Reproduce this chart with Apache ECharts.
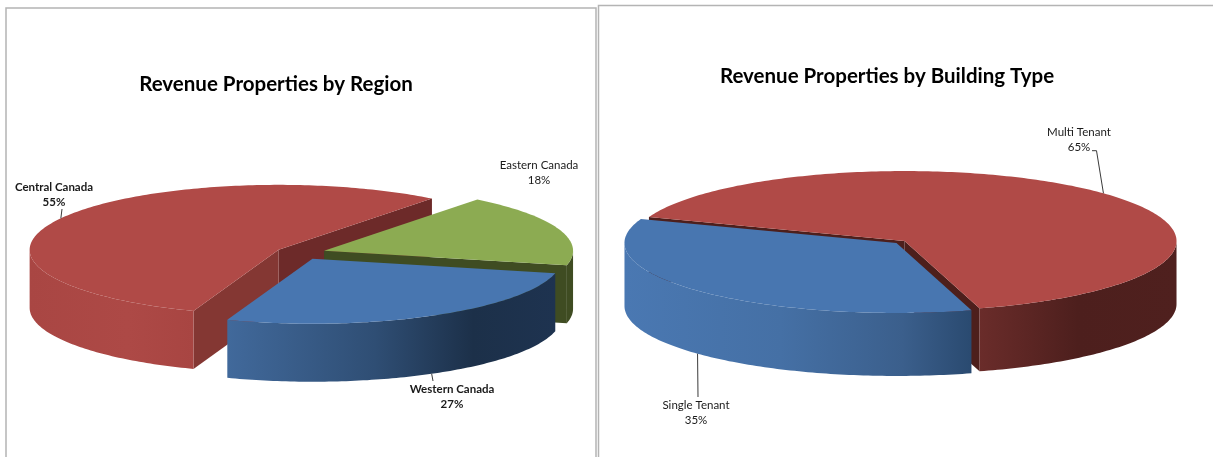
<!DOCTYPE html>
<html lang="en">
	<head>
		<meta charset="UTF-8">
		<title>Revenue Properties</title>
		<style>
			html, body { margin: 0; padding: 0; background: #fff; overflow: hidden; }
			#main { width: 1213px; height: 457px; }
		</style>
		<script src="https://cdn.jsdelivr.net/npm/echarts@6/dist/echarts.min.js"></script>
	</head>
	<body>
		<div id="main"></div>
		<script type="text/javascript">
			// data, clockwise from each pie's first slice
			var regionNames = ['Eastern Canada', 'Western Canada', 'Central Canada'];
			var regionValues = [18, 27, 55];
			var typeNames = ['Single Tenant', 'Multi Tenant'];
			var typeValues = [35, 65];

			var FONT = 'Lato, "Open Sans", sans-serif';

			function wallFill(stops) {
				if (typeof stops === 'string') return stops;
				return new echarts.graphic.LinearGradient(0, 0, 1, 0, stops.map(function(s) {
					return { offset: s[0], color: s[1] };
				}));
			}

			// layout: tilted pie with exploded slices, angles come from the values
			var regionLayout = {
				cx: 300.5, cy: 253, rx: 249, ry: 65, depth: 58, explode: 25, startAngle: -52,
				slices: [
					{ top: '#8cab52', wall: '#3f4c22', cut: '#3f4c22',
						label: { x: 539, y: 173 } },
					{ top: '#4876b0', wall: [[0, '#41699b'], [0.45, '#2f4e74'], [0.75, '#1c3049'], [1, '#1e3350']], cut: '#2f4e74',
						label: { x: 452, y: 397, bold: true }, leader: [[433, 381]] },
					{ top: '#b04a47', wall: [[0, '#a94643'], [0.6, '#ad4946'], [1, '#a84542']], cut: '#6d2a29', cutFront: '#843733',
						label: { x: 54, y: 195, bold: true }, leader: [[62, 209]] }
				]
			};
			var typeLayout = {
				cx: 900.5, cy: 242, rx: 272, ry: 70, depth: 63, explode: 5.5, startAngle: 74,
				slices: [
					{ top: '#4876b0', wall: [[0, '#4a78b2'], [0.45, '#4570a5'], [0.8, '#3b5f8c'], [1, '#2a4a70']], cut: '#2f4e74',
						label: { x: 696, y: 413 }, leader: [[698, 397]] },
					{ top: '#b04a47', wall: [[0, '#6a2c2a'], [0.5, '#4d1f1d'], [1, '#4f201e']], cut: '#4d1f1c',
						label: { x: 1079, y: 140 }, leader: [[1096.5, 150.7], [1092, 150.7]] }
				]
			};

			function pieSeries(names, values, layout) {
				var total = values.reduce(function(a, b) { return a + b; }, 0);
				var angle = layout.startAngle;
				var slices = values.map(function(v, i) {
					var span = v / total * 360;
					var s = { name: names[i], value: v, style: layout.slices[i], start: angle, end: angle + span };
					angle += span;
					s.mid = (s.start + s.end) / 2 * Math.PI / 180;
					return s;
				});
				// back to front
				slices.sort(function(a, b) { return Math.sin(a.mid) - Math.sin(b.mid); });

				return {
					type: 'custom',
					coordinateSystem: 'none',
					silent: true,
					data: slices.map(function(s) { return [s.value]; }),
					renderItem: function(params, api) {
						var s = slices[params.dataIndex];
						var ox = layout.cx + layout.explode * Math.cos(s.mid);
						var oy = layout.cy + layout.explode * Math.sin(s.mid) * layout.ry / layout.rx;
						var d = layout.depth;
						function rim(deg, dy) {
							var t = deg * Math.PI / 180;
							return [ox + layout.rx * Math.cos(t), oy + layout.ry * Math.sin(t) + (dy || 0)];
						}
						function arc(a, b, dy) {
							var pts = [], n = Math.max(2, Math.ceil(Math.abs(b - a)));
							for (var i = 0; i <= n; i++) pts.push(rim(a + (b - a) * i / n, dy));
							return pts;
						}
						function poly(points, fill) {
							return { type: 'polygon', shape: { points: points }, style: { fill: fill } };
						}
						function cutFace(deg, fill) {
							var e = rim(deg);
							return poly([[ox, oy], e, [e[0], e[1] + d], [ox, oy + d]], fill);
						}
						var children = [];
						var rad = Math.PI / 180;
						// cut faces that look towards the viewer
						if (Math.cos(s.end * rad) > 0) children.push(cutFace(s.end, s.style.cut));
						if (Math.cos(s.start * rad) < 0) children.push(cutFace(s.start, s.style.cutFront || s.style.cut));
						// outer wall, front half of the rim only
						for (var k = 0; k <= 360; k += 360) {
							var a = Math.max(s.start, k), b = Math.min(s.end, k + 180);
							if (b > a) {
								children.push(poly(arc(a, b).concat(arc(b, a, d)), wallFill(s.style.wall)));
							}
						}
						// top
						children.push(poly([[ox, oy]].concat(arc(s.start, s.end)), s.style.top));
						// leader from the rim at the middle of the slice
						if (s.style.leader) {
							var front = Math.sin(s.mid) > 0;
							var p0 = rim(s.mid / rad, front ? d : 0);
							children.push({
								type: 'polyline',
								shape: { points: [p0].concat(s.style.leader) },
								style: { stroke: '#3a3a3a', lineWidth: 1, fill: null }
							});
						}
						children.push({
							type: 'text',
							style: {
								text: s.name + '\n' + api.value(0) + '%',
								x: s.style.label.x,
								y: s.style.label.y,
								align: 'center',
								verticalAlign: 'middle',
								lineHeight: 15,
								fill: '#1a1a1a',
								font: (s.style.label.bold ? 'bold ' : '') + '11.5px ' + FONT
							}
						});
						return { type: 'group', children: children };
					}
				};
			}

			var myChart = echarts.init(document.getElementById('main'), null, { renderer: 'canvas' });
			myChart.setOption({
				animation: false,
				backgroundColor: '#fff',
				title: [{
					text: 'Revenue Properties by Region',
					left: 271, top: 69, textAlign: 'center',
					textStyle: { fontFamily: FONT, fontWeight: 'bold', fontSize: 20.5, color: '#000' }
				}, {
					text: 'Revenue Properties by Building Type',
					left: 882, top: 61, textAlign: 'center',
					textStyle: { fontFamily: FONT, fontWeight: 'bold', fontSize: 20.5, color: '#000' }
				}],
				graphic: [
					{ type: 'rect', silent: true, shape: { x: 6, y: 8, width: 590, height: 470 },
						style: { fill: null, stroke: '#b4b4b4', lineWidth: 1.5 } },
					{ type: 'rect', silent: true, shape: { x: 598.5, y: 5.5, width: 700, height: 470 },
						style: { fill: null, stroke: '#b4b4b4', lineWidth: 1.5 } }
				],
				series: [
					pieSeries(regionNames, regionValues, regionLayout),
					pieSeries(typeNames, typeValues, typeLayout)
				]
			});
		</script>
	</body>
</html>
